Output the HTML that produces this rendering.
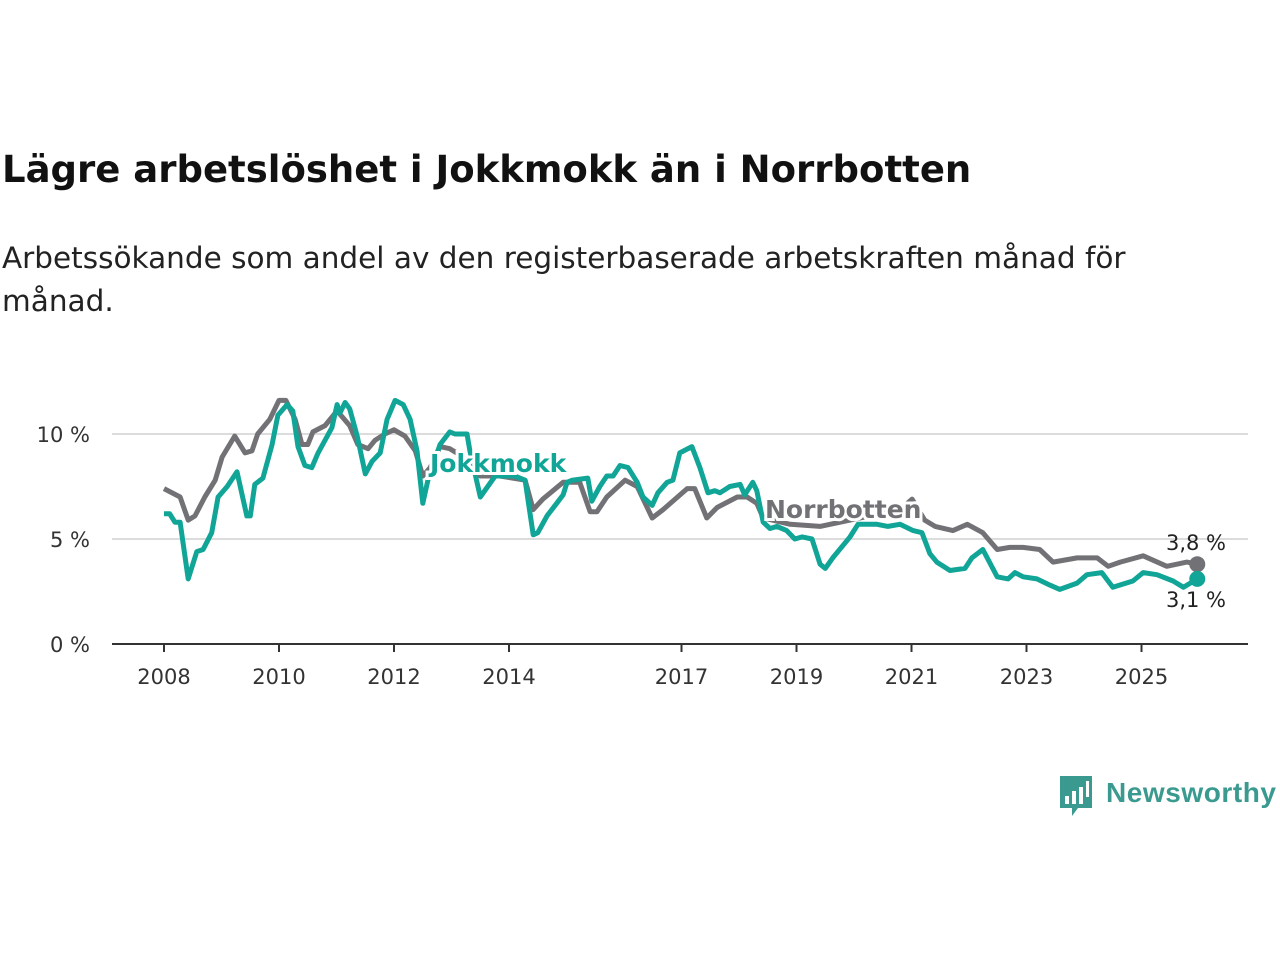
<!DOCTYPE html>
<html><head><meta charset="utf-8">
<style>
body{margin:0;background:#fff;width:1280px;height:960px;overflow:hidden;font-family:"DejaVu Sans","Liberation Sans",sans-serif;}
#title{position:absolute;left:2px;top:148px;font-size:37px;font-weight:bold;color:#111;margin:0;white-space:nowrap;}
#sub{position:absolute;left:2px;top:237px;font-size:29.5px;line-height:43px;color:#222;width:1190px;margin:0;}
svg{position:absolute;left:0;top:0;}
</style></head><body>
<h1 id="title">Lägre arbetslöshet i Jokkmokk än i Norrbotten</h1>
<p id="sub">Arbetssökande som andel av den registerbaserade arbetskraften månad för månad.</p>
<svg id="chart" width="1280" height="960"></svg>
<script>
const yTicks=[0,5,10];
const xTicks=[2008,2010,2012,2014,2017,2019,2021,2023,2025];
const norrYears=[2008.00,2008.28,2008.42,2008.54,2008.71,2008.89,2009.01,2009.23,2009.41,2009.53,2009.63,2009.84,2010.00,2010.12,2010.28,2010.40,2010.50,2010.59,2010.80,2011.01,2011.23,2011.37,2011.55,2011.67,2011.84,2012.00,2012.19,2012.37,2012.50,2012.63,2012.80,2012.97,2013.15,2013.50,2013.84,2014.28,2014.42,2014.59,2014.94,2015.23,2015.41,2015.53,2015.70,2016.02,2016.23,2016.49,2016.68,2017.10,2017.23,2017.44,2017.62,2017.97,2018.14,2018.31,2018.42,2018.89,2019.41,2020.10,2020.80,2021.01,2021.23,2021.41,2021.72,2021.97,2022.24,2022.49,2022.71,2022.94,2023.23,2023.46,2023.88,2024.23,2024.42,2024.63,2025.03,2025.44,2025.79,2025.97];
const norrValues=[7.4,7.0,5.9,6.1,7.0,7.8,8.9,9.9,9.1,9.2,10.0,10.7,11.6,11.6,10.7,9.5,9.5,10.1,10.4,11.1,10.4,9.5,9.3,9.7,10.0,10.2,9.9,9.2,8.0,8.4,9.4,9.3,9.0,8.0,8.0,7.8,6.4,6.9,7.7,7.7,6.3,6.3,7.0,7.8,7.5,6.0,6.4,7.4,7.4,6.0,6.5,7.0,7.0,6.7,6.0,5.7,5.6,6.0,6.4,6.9,5.9,5.6,5.4,5.7,5.3,4.5,4.6,4.6,4.5,3.9,4.1,4.1,3.7,3.9,4.2,3.7,3.9,3.8];
const jokkYears=[2008.00,2008.10,2008.19,2008.28,2008.42,2008.57,2008.68,2008.83,2008.94,2009.10,2009.27,2009.44,2009.50,2009.58,2009.72,2009.88,2009.98,2010.14,2010.24,2010.33,2010.45,2010.57,2010.68,2010.80,2010.92,2011.01,2011.06,2011.15,2011.23,2011.36,2011.50,2011.62,2011.76,2011.88,2012.02,2012.16,2012.28,2012.40,2012.50,2012.59,2012.80,2012.97,2013.06,2013.18,2013.27,2013.32,2013.50,2013.76,2014.10,2014.28,2014.42,2014.50,2014.66,2014.83,2014.94,2015.01,2015.10,2015.37,2015.44,2015.58,2015.70,2015.81,2015.93,2016.07,2016.23,2016.33,2016.49,2016.59,2016.75,2016.85,2016.97,2017.18,2017.32,2017.46,2017.58,2017.67,2017.84,2018.02,2018.10,2018.24,2018.31,2018.42,2018.54,2018.66,2018.83,2018.97,2019.10,2019.27,2019.41,2019.50,2019.63,2019.81,2019.93,2020.07,2020.40,2020.59,2020.80,2021.03,2021.18,2021.32,2021.44,2021.67,2021.93,2022.05,2022.24,2022.49,2022.68,2022.80,2022.94,2023.18,2023.41,2023.58,2023.88,2024.05,2024.31,2024.50,2024.85,2025.03,2025.27,2025.55,2025.73,2025.97];
const jokkValues=[6.2,6.2,5.8,5.8,3.1,4.4,4.5,5.3,7.0,7.5,8.2,6.1,6.1,7.6,7.9,9.5,10.9,11.4,11.1,9.4,8.5,8.4,9.1,9.7,10.3,11.4,11.0,11.5,11.2,9.9,8.1,8.7,9.1,10.7,11.6,11.4,10.7,9.2,6.7,7.8,9.5,10.1,10.0,10.0,10.0,9.2,7.0,8.0,8.0,7.8,5.2,5.3,6.1,6.7,7.1,7.7,7.8,7.9,6.8,7.5,8.0,8.0,8.5,8.4,7.7,7.0,6.6,7.2,7.7,7.8,9.1,9.4,8.4,7.2,7.3,7.2,7.5,7.6,7.1,7.7,7.3,5.8,5.5,5.6,5.4,5.0,5.1,5.0,3.8,3.6,4.1,4.7,5.1,5.7,5.7,5.6,5.7,5.4,5.3,4.3,3.9,3.5,3.6,4.1,4.5,3.2,3.1,3.4,3.2,3.1,2.8,2.6,2.9,3.3,3.4,2.7,3.0,3.4,3.3,3.0,2.7,3.1];

const NS='http://www.w3.org/2000/svg';
const svg=document.getElementById('chart');
const X=t=>164+(t-2008)*57.5;
const Y=v=>644-v*21;
function mk(tag,attrs,parent){const e=document.createElementNS(NS,tag);for(const k in attrs)e.setAttribute(k,attrs[k]);(parent||svg).appendChild(e);return e;}
yTicks.forEach(v=>{
  if(v>0){const g=mk('line',{x1:112,x2:1248,y1:Y(v),y2:Y(v),stroke:'#dcdcdc','stroke-width':2});
  
  }
  const t=mk('text',{x:90,y:Y(v)+8,'text-anchor':'end','font-size':21,fill:'#333'});
  t.textContent=v+' %';
  
  
});
const ax=mk('line',{x1:112,x2:1248,y1:644,y2:644,stroke:'#333','stroke-width':2});


xTicks.forEach(yr=>{
  const l=mk('line',{x1:X(yr),x2:X(yr),y1:644,y2:652,stroke:'#333','stroke-width':2});
  
  
  const t=mk('text',{x:X(yr),y:684,'text-anchor':'middle','font-size':21,fill:'#333'});
  t.textContent=yr;
  
  
});
function line(xs,vs,color,name){
  const d=xs.map((t,i)=>(i?'L':'M')+X(t).toFixed(1)+','+Y(vs[i]).toFixed(1)).join(' ');
  const p=mk('path',{d:d,fill:'none',stroke:color,'stroke-width':5,'stroke-linejoin':'round'});
  
  
}
line(norrYears,norrValues,'#727276','line-norrbotten');
line(jokkYears,jokkValues,'#11a597','line-jokkmokk');
const nl=norrYears.length-1, jl=jokkYears.length-1;
const c1=mk('circle',{cx:X(norrYears[nl]),cy:Y(norrValues[nl]),r:8,fill:'#727276'});


const c2=mk('circle',{cx:X(jokkYears[jl]),cy:Y(jokkValues[jl]),r:8,fill:'#11a597'});


const v1=mk('text',{x:1226,y:Y(norrValues[nl])-14,'text-anchor':'end','font-size':21,fill:'#222'});
v1.textContent=norrValues[nl].toFixed(1).replace('.',',')+' %';


const v2=mk('text',{x:1226,y:Y(jokkValues[jl])+28,'text-anchor':'end','font-size':21,fill:'#222'});
v2.textContent=jokkValues[jl].toFixed(1).replace('.',',')+' %';


const s1=mk('text',{x:430,y:472,'font-size':25,'font-weight':'bold',fill:'#11a597',stroke:'#fff','stroke-width':6,'paint-order':'stroke'});
s1.textContent='Jokkmokk';


const s2=mk('text',{x:765,y:518,'font-size':25,'font-weight':'bold',fill:'#727276',stroke:'#fff','stroke-width':6,'paint-order':'stroke'});
s2.textContent='Norrbotten';


const g=mk('g',{});


mk('path',{d:'M1060,776 h32 v32 h-14 l-6,8 v-8 h-12 z',fill:'#3a9a8f'},g);
mk('rect',{x:1065,y:796,width:4,height:8,fill:'#fff'},g);
mk('rect',{x:1072,y:791,width:4,height:13,fill:'#fff'},g);
mk('rect',{x:1079,y:787,width:4,height:17,fill:'#fff'},g);
mk('rect',{x:1086,y:781,width:3,height:16,fill:'#fff'},g);
const lt=mk('text',{x:1106,y:802,'font-size':28,'font-weight':'bold',fill:'#3a9a8f','font-family':'Liberation Sans, sans-serif','textLength':170},g);
lt.textContent='Newsworthy';
</script>
</body></html>
